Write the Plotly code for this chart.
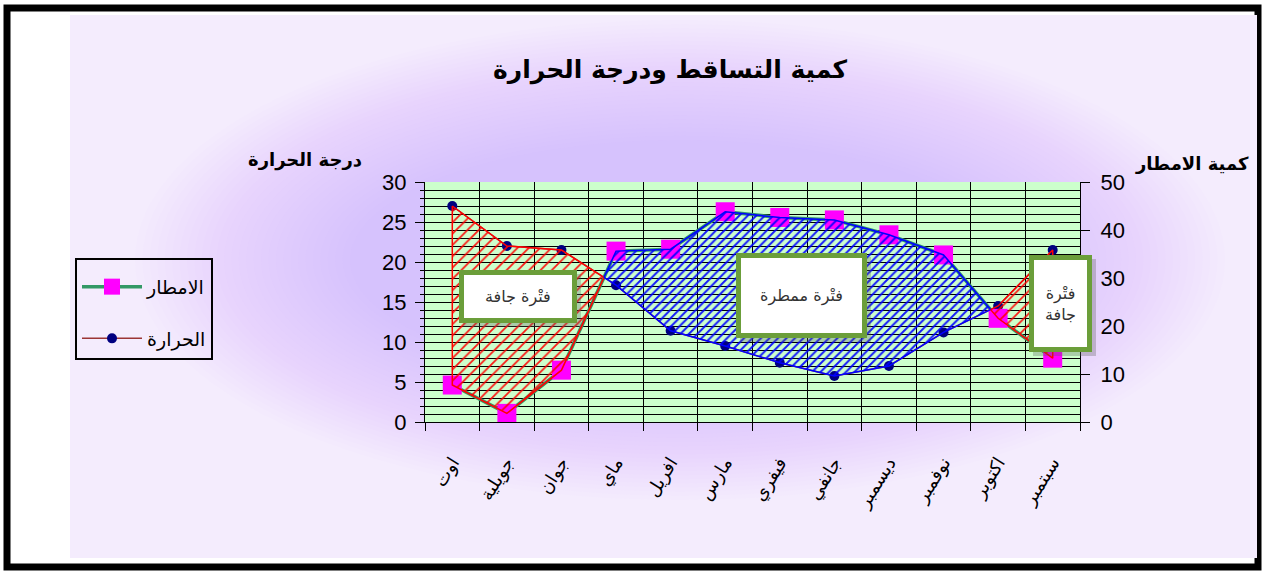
import plotly.graph_objects as go

W, H = 1262, 572

months = ["اوت", "جويلية", "جوان", "ماي", "افريل", "مارس", "فيفري", "جانفي", "ديسمبر", "نوفمبر", "اكتوبر", "سبتمبر"]
temperature = [27, 22, 21.5, 17.1, 11.4, 9.5, 7.4, 5.75, 7, 11.2, 14.5, 21.5]
rainfall = [7.7, 1.8, 10.8, 35.6, 36, 43.8, 42.6, 42.1, 39, 34.8, 21.6, 13.3]
temp_ticks = [0, 5, 10, 15, 20, 25, 30]
rain_ticks = [0, 10, 20, 30, 40, 50]

TEMP_MAX, RAIN_MAX = 30, 50


def px(X):
    return X / W


def py(Y):
    return 1 - Y / H


fig = go.Figure()

xs = list(range(len(months)))

# temperature (left axis)
fig.add_trace(go.Scatter(
    x=xs, y=temperature, name="الحرارة", yaxis="y", legendrank=2, legendgroup="t",
    mode="lines+markers", line=dict(color="#9b3535", width=1.5),
    marker=dict(symbol="circle", size=10, color="#000080"), hoverinfo="skip"))

# rainfall (right axis)
fig.add_trace(go.Scatter(
    x=xs, y=rainfall, name="الامطار", yaxis="y2", legendrank=1, legendgroup="r",
    mode="lines+markers", line=dict(color="#339966", width=3.5),
    marker=dict(symbol="square", size=19, color="#ff00ff"), hoverinfo="skip"))

# dry / wet regions between the two curves (in rainfall units)
t_s = [t * RAIN_MAX / TEMP_MAX for t in temperature]
d = [a - b for a, b in zip(t_s, rainfall)]
regions = []
top = [(0, t_s[0])]
bot = [(0, rainfall[0])]
sign = d[0] > 0
for i in range(len(xs) - 1):
    if (d[i] > 0) != (d[i + 1] > 0):
        f = d[i] / (d[i] - d[i + 1])
        xc = i + f
        yc = t_s[i] + (t_s[i + 1] - t_s[i]) * f
        top.append((xc, yc))
        bot.append((xc, yc))
        regions.append((sign, top, bot))
        top = [(xc, yc)]
        bot = [(xc, yc)]
        sign = d[i + 1] > 0
    top.append((i + 1, t_s[i + 1]))
    bot.append((i + 1, rainfall[i + 1]))
regions.append((sign, top, bot))

for dry, tp, bt in regions:
    pts = tp + bt[::-1] + [tp[0]]
    col = "#ff0000" if dry else "#0000ff"
    fig.add_trace(go.Scatter(
        x=[p[0] for p in pts], y=[p[1] for p in pts], yaxis="y2",
        mode="lines", line=dict(color=col, width=1.5), fill="toself",
        fillcolor="rgba(0,0,0,0)",
        fillpattern=dict(shape="/", fgcolor=col, bgcolor="rgba(0,0,0,0)", fgopacity=0.9,
                         size=8 if dry else 6, solidity=0.22 if dry else 0.32),
        showlegend=False, hoverinfo="skip"))

shapes = []
# outer white page & black frame
shapes.append(dict(type="rect", xref="paper", yref="paper", x0=px(7), x1=px(1258), y0=py(8), y1=py(567),
                   line=dict(color="black", width=7), fillcolor="white", layer="below"))
# lavender background with a soft glow
shapes.append(dict(type="rect", xref="paper", yref="paper", x0=px(70), x1=px(1257), y0=py(15), y1=py(558),
                   line=dict(width=0), fillcolor="#f4ecfd", layer="below"))
cx, cy = 680, 260
n = 30
for k in range(n):
    a = 545 - k * (215 / (n - 1))
    b = 240 - k * (120 / (n - 1))
    shapes.append(dict(type="circle", xref="paper", yref="paper",
                       x0=px(cx - a), x1=px(cx + a), y0=py(cy + b), y1=py(cy - b),
                       line=dict(width=0), fillcolor="rgba(200,160,242,0.022)", layer="below"))
# green plot area
shapes.append(dict(type="rect", xref="paper", yref="paper", x0=px(425), x1=px(1080), y0=py(422), y1=py(182),
                   line=dict(width=0), fillcolor="#ccffcc", layer="below"))

# annotation boxes
boxes = [((459, 270, 577, 323), "فتْرة جافة"),
         ((736, 253, 867, 338), "فتْرة ممطرة"),
         ((1029, 255, 1092, 352), "فتْرة<br>جافة")]
annotations = []
for (x0, y0, x1, y1), txt in boxes:
    shapes.append(dict(type="rect", xref="paper", yref="paper", x0=px(x0 + 4), x1=px(x1 + 4),
                       y0=py(y1 + 4), y1=py(y0 + 4), line=dict(width=0),
                       fillcolor="rgba(90,90,90,0.3)", layer="above"))
    shapes.append(dict(type="rect", xref="paper", yref="paper", x0=px(x0 + 2.5), x1=px(x1 - 2.5),
                       y0=py(y1 - 2.5), y1=py(y0 + 2.5), line=dict(color="#6b9e3a", width=5),
                       fillcolor="white", layer="above"))
    annotations.append(dict(x=px((x0 + x1) / 2), y=py((y0 + y1) / 2), xref="paper", yref="paper",
                            text=txt, showarrow=False, xanchor="center", yanchor="middle",
                            font=dict(family="DejaVu Sans", size=16, color="#333333")))

annotations.append(dict(x=px(670), y=py(70), xref="paper", yref="paper",
                        text="<b>كمية التساقط ودرجة الحرارة</b>", showarrow=False,
                        xanchor="center", yanchor="middle",
                        font=dict(family="DejaVu Sans", size=25, color="black")))
annotations.append(dict(x=px(305), y=py(160), xref="paper", yref="paper",
                        text="<b>درجة الحرارة</b>", showarrow=False, xanchor="center", yanchor="middle",
                        font=dict(family="DejaVu Sans", size=18, color="black")))
annotations.append(dict(x=px(1192), y=py(163), xref="paper", yref="paper",
                        text="<b>كمية الامطار</b>", showarrow=False, xanchor="center", yanchor="middle",
                        font=dict(family="DejaVu Sans", size=18, color="black")))

num_font = dict(family="Liberation Sans Narrow, Arial Narrow, Liberation Sans, sans-serif", size=22, color="black")

fig.update_layout(
    width=W, height=H, autosize=False,
    margin=dict(l=0, r=0, t=0, b=0, autoexpand=False),
    paper_bgcolor="white", plot_bgcolor="rgba(0,0,0,0)",
    showlegend=True,
    legend=dict(x=px(75), y=py(258), xanchor="left", yanchor="top",
                bordercolor="black", borderwidth=2, bgcolor="rgba(0,0,0,0)",
                font=dict(family="DejaVu Sans", size=19, color="black"),
                title=dict(text=" ", font=dict(size=6)),
                itemwidth=60, tracegroupgap=24, traceorder="grouped"),
    xaxis=dict(domain=[px(425), px(1080)], range=[-0.5, 11.5], tickmode="array", tickvals=xs,
               ticktext=months, ticks="", showgrid=False, zeroline=False, automargin=False,
               showline=True, linecolor="black", linewidth=1, tickangle=-58,
               ticklabelstandoff=22,
               tickfont=dict(family="DejaVu Sans", size=18, color="black"),
               minor=dict(tickmode="linear", tick0=-0.5, dtick=1, ticks="outside", ticklen=8,
                          tickcolor="black", showgrid=True, gridcolor="black", gridwidth=1)),
    yaxis=dict(domain=[py(422), py(182)], range=[0, TEMP_MAX], tickmode="array", tickvals=temp_ticks,
               ticks="outside", ticklen=9, tickcolor="black", showgrid=True, gridcolor="black",
               gridwidth=1, zeroline=False, showline=True, linecolor="black", linewidth=1,
               tickfont=num_font, ticklabelstandoff=4, automargin=False,
               minor=dict(tickmode="linear", tick0=0, dtick=1, ticks="outside", ticklen=4,
                          tickcolor="black", showgrid=True, gridcolor="black", gridwidth=1)),
    yaxis2=dict(overlaying="y", side="right", anchor="x", range=[0, RAIN_MAX], tickmode="array",
                tickvals=rain_ticks, ticks="outside", ticklen=9, tickcolor="black", showgrid=False,
                zeroline=False, showline=True, linecolor="black", linewidth=1, automargin=False,
                tickfont=num_font, ticklabelstandoff=6),
    shapes=shapes, annotations=annotations,
)

fig.write_html("out.html", config={"displayModeBar": False},
               post_script="document.body.style.margin='0';document.body.style.overflow='hidden';")
